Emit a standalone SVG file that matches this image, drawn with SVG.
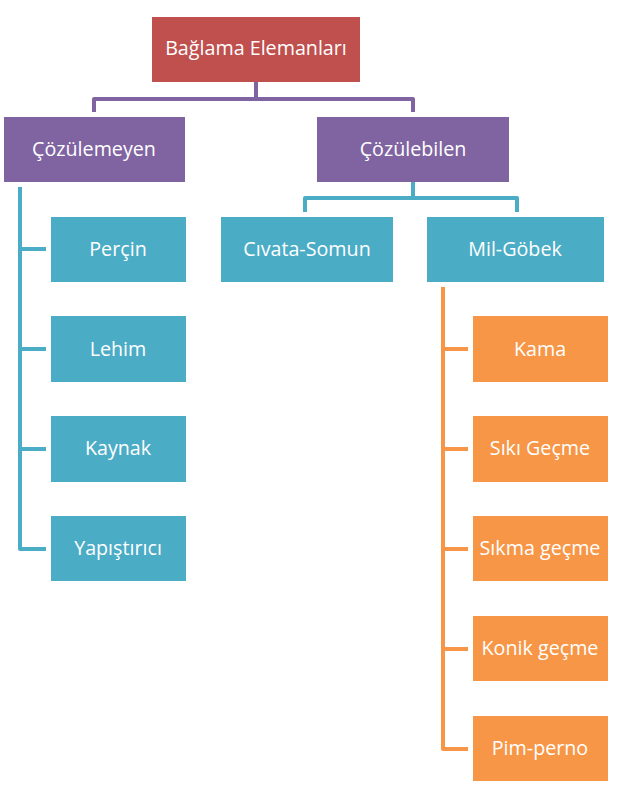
<svg xmlns="http://www.w3.org/2000/svg" width="624" height="803" viewBox="0 0 624 803">
<style>
.t{fill:#fff;font-family:"Open Sans","Noto Sans","Liberation Sans",sans-serif;font-size:19.7px;text-anchor:middle;dominant-baseline:central}
.c{fill:none;stroke-width:4;stroke-linejoin:round}
.red{fill:#C0504D}.pur{fill:#8064A2}.blu{fill:#4BACC6}.ora{fill:#F79646}
</style>
<rect width="624" height="803" fill="#fff"/>
<g id="connectors">
<path class="c" stroke="#8064A2" d="M256 82V99M94 112V99H413V112"/>
<path class="c" stroke="#4BACC6" d="M413 182V198M305 212V198H517V212"/>
<path class="c" stroke="#4BACC6" d="M20 187V549H46M20 249H46M20 349H46M20 449H46"/>
<path class="c" stroke="#F79646" d="M443 287V749H468M443 349H468M443 449H468M443 549H468M443 649H468"/>
</g>
<g id="n-root"><rect class="red" x="152" y="17" width="208" height="65"/><text class="t" x="256" y="47">Bağlama Elemanları</text></g>
<g id="n-cozulemeyen"><rect class="pur" x="4" y="117" width="181" height="65"/><text class="t" x="94" y="148">Çözülemeyen</text></g>
<g id="n-cozulebilen"><rect class="pur" x="317" y="117" width="192" height="65"/><text class="t" x="413" y="148">Çözülebilen</text></g>
<g id="n-percin"><rect class="blu" x="51" y="217" width="135" height="65"/><text class="t" x="118" y="248">Perçin</text></g>
<g id="n-lehim"><rect class="blu" x="51" y="316" width="135" height="66"/><text class="t" x="118" y="348">Lehim</text></g>
<g id="n-kaynak"><rect class="blu" x="51" y="416" width="135" height="66"/><text class="t" x="118" y="447">Kaynak</text></g>
<g id="n-yapistirici"><rect class="blu" x="51" y="516" width="135" height="65"/><text class="t" x="118" y="547">Yapıştırıcı</text></g>
<g id="n-civata"><rect class="blu" x="221" y="217" width="172" height="65"/><text class="t" x="307" y="248">Cıvata-Somun</text></g>
<g id="n-milgobek"><rect class="blu" x="427" y="217" width="177" height="65"/><text class="t" x="515" y="248">Mil-Göbek</text></g>
<g id="n-kama"><rect class="ora" x="473" y="316" width="135" height="66"/><text class="t" x="540" y="348">Kama</text></g>
<g id="n-siki"><rect class="ora" x="473" y="416" width="135" height="66"/><text class="t" x="540" y="447">Sıkı Geçme</text></g>
<g id="n-sikma"><rect class="ora" x="473" y="516" width="135" height="65"/><text class="t" x="540" y="547">Sıkma geçme</text></g>
<g id="n-konik"><rect class="ora" x="473" y="616" width="135" height="65"/><text class="t" x="540" y="647">Konik geçme</text></g>
<g id="n-pim"><rect class="ora" x="473" y="716" width="135" height="65"/><text class="t" x="540" y="747">Pim-perno</text></g>
</svg>
